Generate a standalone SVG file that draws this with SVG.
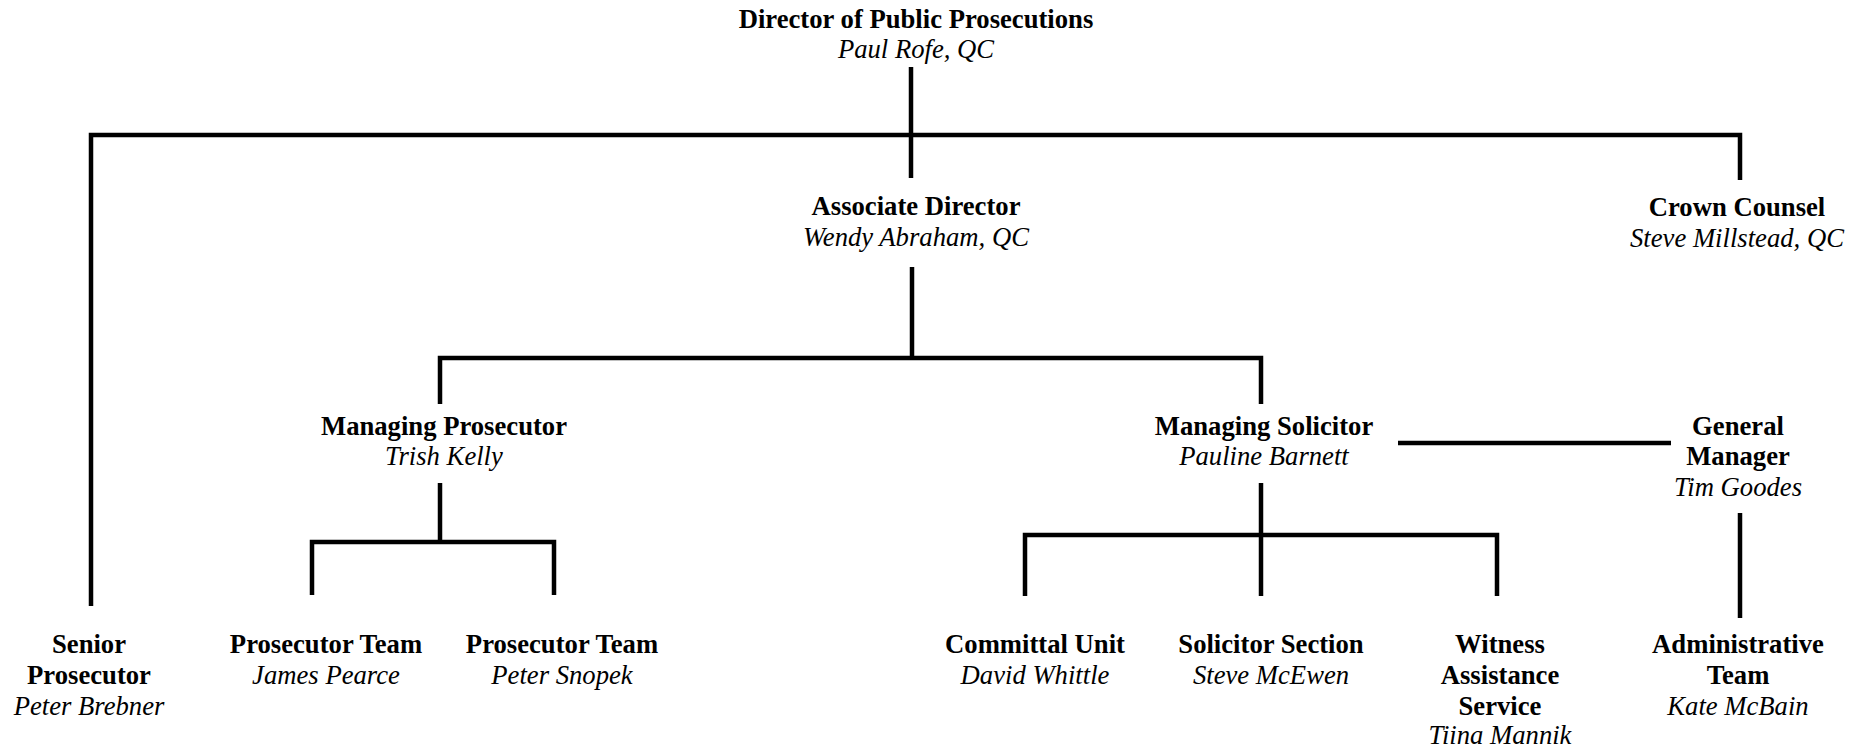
<svg xmlns="http://www.w3.org/2000/svg" width="1865" height="751" viewBox="0 0 1865 751">
<style>
text{font-family:"Liberation Serif","Times New Roman",serif;font-size:26.67px;text-anchor:middle;fill:#000}
.b{font-weight:bold}
.i{font-style:italic}
.c{fill:none;stroke:#000;stroke-width:4.5;stroke-linejoin:miter;stroke-linecap:butt}
</style>
<rect width="1865" height="751" fill="#fff"/>
<g id="connectors" class="c">
<path d="M911,67V178"/>
<path d="M91,606V135H1740V180"/>
<path d="M912,267V358"/>
<path d="M440,404V358H1261V404"/>
<path d="M440,483V542"/>
<path d="M312,595V542H554V595"/>
<path d="M1261,483V596"/>
<path d="M1025,596V535H1497V596"/>
<path d="M1398,443H1671"/>
<path d="M1740,513V618"/>
</g>
<g id="director"><text class="b" x="916" y="27.5">Director of Public Prosecutions</text><text class="i" x="916" y="58">Paul Rofe, QC</text></g>
<g id="associate-director"><text class="b" x="916" y="215">Associate Director</text><text class="i" x="916" y="246">Wendy Abraham, QC</text></g>
<g id="crown-counsel"><text class="b" x="1737" y="216">Crown Counsel</text><text class="i" x="1737" y="247">Steve Millstead, QC</text></g>
<g id="managing-prosecutor"><text class="b" x="444" y="435">Managing Prosecutor</text><text class="i" x="444" y="465">Trish Kelly</text></g>
<g id="managing-solicitor"><text class="b" x="1264" y="435">Managing Solicitor</text><text class="i" x="1264" y="465">Pauline Barnett</text></g>
<g id="general-manager"><text class="b" x="1738" y="435">General</text><text class="b" x="1738" y="465">Manager</text><text class="i" x="1738" y="496">Tim Goodes</text></g>
<g id="senior-prosecutor"><text class="b" x="89" y="653">Senior</text><text class="b" x="89" y="684">Prosecutor</text><text class="i" x="89" y="715">Peter Brebner</text></g>
<g id="prosecutor-team-1"><text class="b" x="326" y="653">Prosecutor Team</text><text class="i" x="326" y="684">James Pearce</text></g>
<g id="prosecutor-team-2"><text class="b" x="562" y="653">Prosecutor Team</text><text class="i" x="562" y="684">Peter Snopek</text></g>
<g id="committal-unit"><text class="b" x="1035" y="653">Committal Unit</text><text class="i" x="1035" y="684">David Whittle</text></g>
<g id="solicitor-section"><text class="b" x="1271" y="653">Solicitor Section</text><text class="i" x="1271" y="684">Steve McEwen</text></g>
<g id="witness-assistance"><text class="b" x="1500" y="653">Witness</text><text class="b" x="1500" y="684">Assistance</text><text class="b" x="1500" y="715">Service</text><text class="i" x="1500" y="744">Tiina Mannik</text></g>
<g id="administrative-team"><text class="b" x="1738" y="653">Administrative</text><text class="b" x="1738" y="684">Team</text><text class="i" x="1738" y="715">Kate McBain</text></g>
</svg>
